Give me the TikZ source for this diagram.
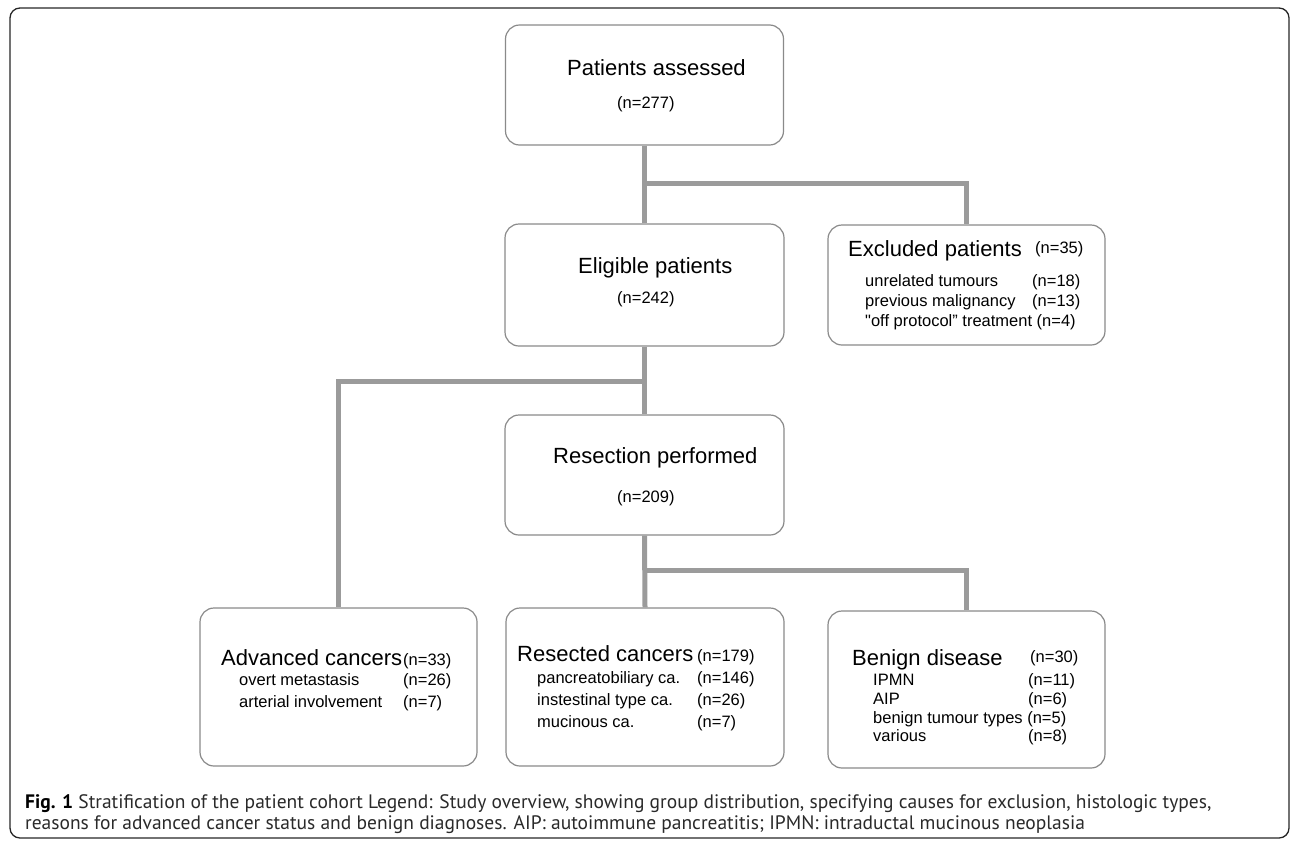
\documentclass[tikz,border=0pt]{standalone}
\usepackage{fontspec}
\setmainfont{Liberation Sans}
\newfontfamily\capfont{PT Sans}
\definecolor{conncol}{HTML}{9B9B9B}
\definecolor{boxcol}{HTML}{8A8A8A}
\definecolor{captext}{HTML}{2A2A2A}
\begin{document}
\begin{tikzpicture}[x=1pt,y=-1pt,
  box/.style={draw=boxcol, line width=1.2pt, rounded corners=14pt, fill=white, inner sep=0pt},
  conn/.style={draw=conncol, line width=5pt, line join=miter},
  ttl/.style={anchor=base west, inner sep=0pt, font=\fontsize{22}{26}\selectfont},
  sm/.style={anchor=base west, inner sep=0pt, font=\fontsize{16.5}{20}\selectfont},
  captxt/.style={anchor=base west, inner sep=0pt, font=\capfont\fontsize{19.5}{21}\selectfont, text=captext}]
\useasboundingbox (0,0) rectangle (1292,841);
\draw[rounded corners=10pt, line width=1.3pt, draw=black!85] (10,8) rectangle (1289,838);

% boxes
\node[box, minimum width=278pt, minimum height=120pt] (pa) at (644.5,85) {};
\node[box, minimum width=279pt, minimum height=122pt] (ep) at (644.5,285) {};
\node[box, minimum width=277pt, minimum height=120pt] (ex) at (966.5,285) {};
\node[box, minimum width=279pt, minimum height=120pt] (rp) at (644.5,475) {};
\node[box, minimum width=277pt, minimum height=158pt] (ac) at (338.5,687) {};
\node[box, minimum width=278pt, minimum height=158pt] (rc) at (645,687) {};
\node[box, minimum width=277pt, minimum height=157pt] (bd) at (966.5,689.5) {};

% connectors
\coordinate (j1) at (644.5,183);
\coordinate (j2) at (644.5,381);
\coordinate (j3) at (645,570);
\draw[conn] (pa.south) -- (ep.north);
\draw[conn] (j1) -| (ex.north);
\draw[conn] (ep.south) -- (rp.north);
\draw[conn] (j2) -| (ac.north);
\draw[conn] (rp.south) -- (rc.north);
\draw[conn] (j3) -| (bd.north);

% Patients assessed
\node[ttl] (paT) at (567,75) {Patients assessed};
\node[sm] (paN) at (617,108) {(n=277)};
% Eligible
\node[ttl] (epT) at (578,273) {Eligible patients};
\node[sm] (epN) at (617,303) {(n=242)};
% Excluded
\node[ttl] (exT) at (848,256) {Excluded patients};
\node[sm] (exN) at (1035,253) {(n=35)};
\node[sm] (ex1) at (865,286) {unrelated tumours};
\node[sm] (ex1n) at (1032,286) {(n=18)};
\node[sm] (ex2) at (865,306) {previous malignancy};
\node[sm] (ex2n) at (1032,306) {(n=13)};
\node[sm] (ex3) at (865,326) {\textquotedbl off protocol” treatment (n=4)};
% Resection
\node[ttl] (rpT) at (553,463) {Resection performed};
\node[sm] (rpN) at (617,502) {(n=209)};
% Advanced
\node[ttl] (acT) at (221,665) {Advanced cancers};
\node[sm] (acN) at (403,665) {(n=33)};
\node[sm] (ac1) at (239,685) {overt metastasis};
\node[sm] (ac1n) at (403,685) {(n=26)};
\node[sm] (ac2) at (239,707) {arterial involvement};
\node[sm] (ac2n) at (403,707) {(n=7)};
% Resected
\node[ttl] (rcT) at (517,661) {Resected cancers};
\node[sm] (rcN) at (697,661) {(n=179)};
\node[sm] (rc1) at (537,683) {pancreatobiliary ca.};
\node[sm] (rc1n) at (697,683) {(n=146)};
\node[sm] (rc2) at (537,705) {instestinal type ca.};
\node[sm] (rc2n) at (697,705) {(n=26)};
\node[sm] (rc3) at (537,727) {mucinous ca.};
\node[sm] (rc3n) at (697,727) {(n=7)};
% Benign
\node[ttl] (bdT) at (852,665) {Benign disease};
\node[sm] (bdN) at (1030,662) {(n=30)};
\node[sm] (bd1) at (873,685) {IPMN};
\node[sm] (bd1n) at (1028,685) {(n=11)};
\node[sm] (bd2) at (873,704) {AIP};
\node[sm] (bd2n) at (1028,704) {(n=6)};
\node[sm] (bd3) at (873,723) {benign tumour types (n=5)};
\node[sm] (bd4) at (873,741) {various};
\node[sm] (bd4n) at (1028,741) {(n=8)};

% caption
\node[captxt] (cap1) at (25,808) {\textbf{\color{black}Fig. 1} Stratification of the patient cohort Legend: Study overview, showing group distribution, specifying causes for exclusion, histologic types,};
\node[captxt] (cap2) at (25,829) {reasons for advanced cancer status and benign diagnoses. AIP: autoimmune pancreatitis; IPMN: intraductal mucinous neoplasia};
\end{tikzpicture}
\end{document}
